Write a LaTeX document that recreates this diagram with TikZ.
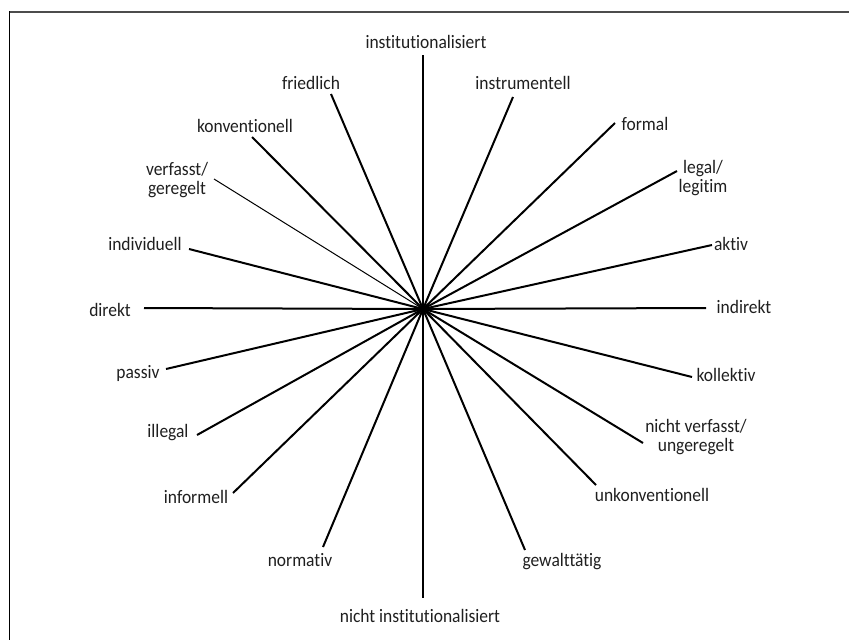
\documentclass[tikz,border=0pt]{standalone}
\usepackage{fontspec}
\setmainfont[Ligatures={NoCommon}, FakeStretch=0.92]{Carlito}
\begin{document}
\begin{tikzpicture}[x=1pt,y=-1pt,
  ray/.style={line width=2pt, black},
  thinray/.style={line width=1pt, black},
  lbl/.style={font=\fontsize{19}{19.5}\selectfont, text=black!88, inner sep=0pt, align=center},
  frameline/.style={line width=1.6pt}]
\useasboundingbox (0,0) rectangle (849,640);
% open frame: top and left edges
\draw[frameline, black!70] (9,12) -- (849,12);
\draw[frameline, black] (9.3,11.2) -- (9.3,640);

% common centre of all rays
\coordinate (o) at (423,309);

% free ends of the rays
\coordinate (eInst)   at (423,55);
\coordinate (eNInst)  at (423,598);
\coordinate (eFried)  at (331,94);
\coordinate (eGew)    at (525,550);
\coordinate (eInstr)  at (513,97);
\coordinate (eNorm)   at (323,547);
\coordinate (eKonv)   at (252,137);
\coordinate (eUnk)    at (596,485);
\coordinate (eForm)   at (615,123);
\coordinate (eInf)    at (233,493);
\coordinate (eVerf)   at (214,179);
\coordinate (eNVerf)  at (643,443);
\coordinate (eLeg)    at (677,171);
\coordinate (eIll)    at (197,435);
\coordinate (eIndiv)  at (189,249);
\coordinate (eKoll)   at (692,377);
\coordinate (eAkt)    at (712,245);
\coordinate (ePass)   at (166,369);
\coordinate (eDir)    at (144,308);
\coordinate (eIndir)  at (706,308);

% rays
\foreach \e in {eInst,eNInst,eFried,eGew,eInstr,eNorm,eKonv,eUnk,eForm,eInf,
                eNVerf,eLeg,eIll,eIndiv,eKoll,eAkt,ePass,eDir,eIndir}
  \draw[ray] (o) -- (\e);
\draw[thinray] (o) -- (eVerf);

% labels
\node[lbl] (tInst)  at (426,42)  {institutionalisiert};
\node[lbl] (tNInst) at (420,616) {nicht institutionalisiert};
\node[lbl] (tFried) at (311,83)  {friedlich};
\node[lbl] (tInstr) at (523,83)  {instrumentell};
\node[lbl] (tKonv)  at (245,126) {konventionell};
\node[lbl] (tForm)  at (645,124) {formal};
\node[lbl] (tVerf)  at (177,180) {verfasst/\\geregelt};
\node[lbl] (tLeg)   at (703,178) {legal/\\legitim};
\node[lbl] (tIndiv) at (145,244) {individuell};
\node[lbl] (tAkt)   at (731,244) {aktiv};
\node[lbl] (tDir)   at (110,310) {direkt};
\node[lbl] (tIndir) at (744,307) {indirekt};
\node[lbl] (tPass)  at (138,373) {passiv};
\node[lbl] (tKoll)  at (726,375) {kollektiv};
\node[lbl] (tIll)   at (168,433) {illegal};
\node[lbl] (tNVerf) at (696,437) {nicht verfasst/\\ungeregelt};
\node[lbl] (tInf)   at (196,497) {informell};
\node[lbl] (tUnk)   at (652,495) {unkonventionell};
\node[lbl] (tNorm)  at (300,560) {normativ};
\node[lbl] (tGew)   at (562,562) {gewalttätig};
\end{tikzpicture}
\end{document}
